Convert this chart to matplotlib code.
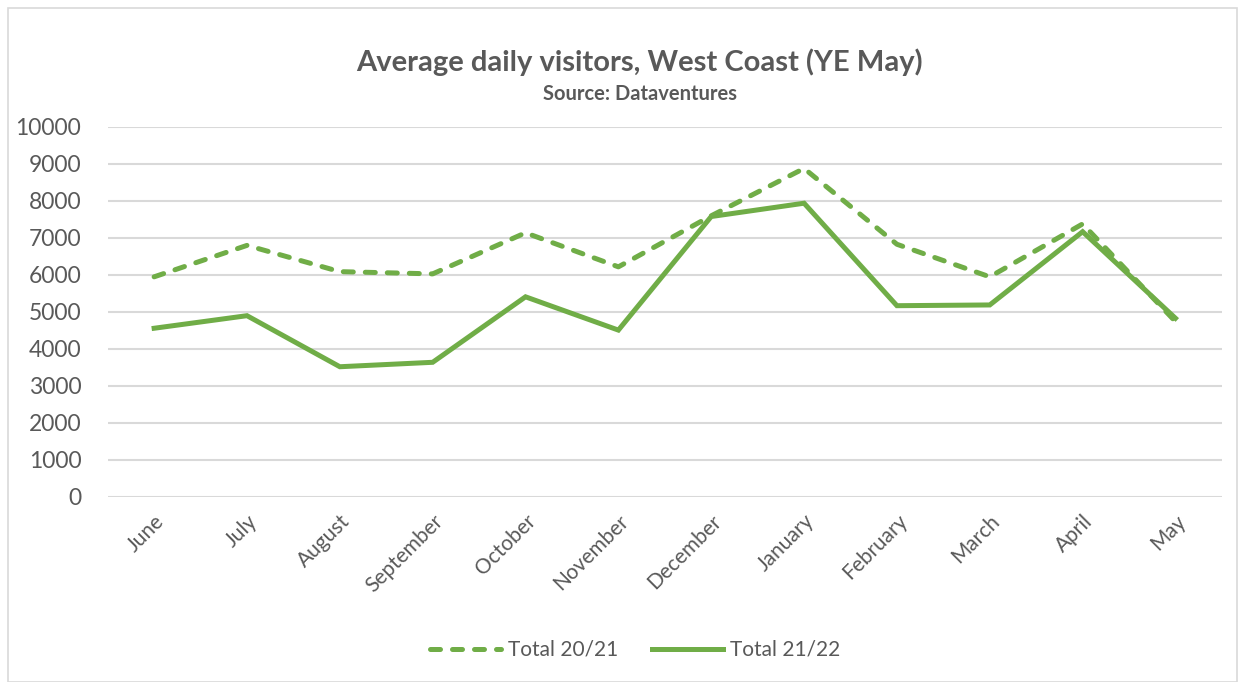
import matplotlib
matplotlib.use("Agg")
import matplotlib.pyplot as plt
from matplotlib.patches import Rectangle

# ── Data ──────────────────────────────────────────────────────────────────────
months = ["June", "July", "August", "September", "October", "November",
          "December", "January", "February", "March", "April", "May"]
total_20_21 = [5950, 6800, 6090, 6030, 7140, 6220, 7600, 8880, 6830, 5950, 7380, 4740]
total_21_22 = [4560, 4900, 3520, 3640, 5410, 4510, 7580, 7940, 5170, 5190, 7170, 4830]
y_ticks = list(range(0, 10001, 1000))

GREEN = "#70ad47"
TEXT = "#595959"
GRID = "#d9d9d9"

plt.rcParams["font.family"] = ["Lato", "DejaVu Sans"]

fig = plt.figure(figsize=(12.38, 6.82), dpi=100, facecolor="white")
ax = fig.add_axes([0.087, 0.2713, 0.900, 0.5425])

x = list(range(len(months)))
ax.plot(x, total_20_21, color=GREEN, lw=3.6, linestyle=(0, (2.0, 2.4)),
        dash_capstyle="round", solid_joinstyle="miter", label="Total 20/21")
ax.plot(x, total_21_22, color=GREEN, lw=3.6, solid_joinstyle="miter",
        label="Total 21/22")

ax.set_xlim(-0.5, len(months) - 0.5)
ax.set_ylim(0, 10000)
ax.set_yticks(y_ticks)
ax.set_yticklabels([str(v) for v in y_ticks])
ax.set_xticks(x)
ax.set_xticklabels(months, rotation=45, ha="right", rotation_mode="anchor")
ax.tick_params(axis="both", length=0, colors=TEXT)
ax.tick_params(axis="x", pad=10, labelsize=15)
ax.tick_params(axis="y", pad=19, labelsize=16.5)

ax.yaxis.grid(True, color=GRID, lw=1.5)
ax.set_axisbelow(True)
for s in ax.spines.values():
    s.set_visible(False)

fig.text(0.5166, 0.909, "Average daily visitors, West Coast (YE May)",
         ha="center", va="center", fontsize=21, fontweight="bold", color=TEXT)
fig.text(0.5166, 0.862, "Source: Dataventures",
         ha="center", va="center", fontsize=14.5, fontweight="bold", color=TEXT)

leg = fig.legend(loc="center", bbox_to_anchor=(0.513, 0.047), ncol=2,
                 frameon=False, fontsize=15, handlelength=3.4,
                 columnspacing=1.6, handletextpad=0.35)
for t in leg.get_texts():
    t.set_color(TEXT)

fig.patches.append(Rectangle((0.0065, 0.0), 0.993, 0.988, transform=fig.transFigure,
                             fill=False, edgecolor=GRID, lw=1.2))

fig.savefig("out.png", dpi=100, facecolor="white")
